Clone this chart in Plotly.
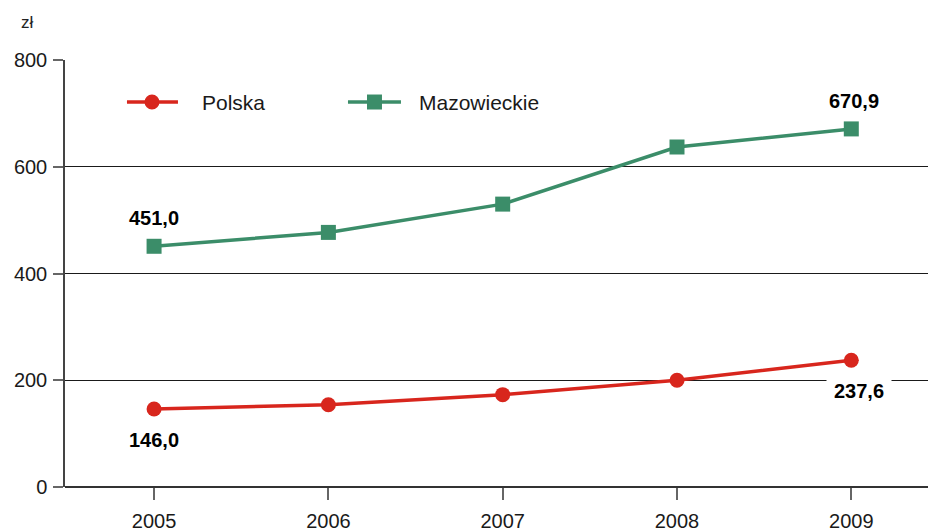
import plotly.graph_objects as go

years = [2005, 2006, 2007, 2008, 2009]
polska = [146.0, 154.0, 173.0, 200.0, 237.6]
mazowieckie = [451.0, 477.0, 530.0, 637.0, 670.9]
y_ticks = [0, 200, 400, 600, 800]
series_names = ['Polska', 'Mazowieckie']

red = '#d8261d'
green = '#3b8d69'
font_family = 'Liberation Sans, Arial'

fig = go.Figure()
fig.add_trace(go.Scatter(x=years, y=polska, mode='lines+markers', name=series_names[0],
                         line=dict(color=red, width=3.5), showlegend=False,
                         marker=dict(symbol='circle', size=15, color=red)))
fig.add_trace(go.Scatter(x=years, y=mazowieckie, mode='lines+markers', name=series_names[1],
                         line=dict(color=green, width=3.5), showlegend=False,
                         marker=dict(symbol='square', size=15, color=green)))

label_font = dict(family=font_family, size=20, color='black', weight='bold')
# first and last values labelled
fig.add_annotation(x=years[0], y=mazowieckie[0], text='451,0', showarrow=False,
                   yshift=28, font=label_font)
fig.add_annotation(x=years[-1], y=mazowieckie[-1], text='670,9', showarrow=False,
                   yshift=28, xshift=3, font=label_font)
fig.add_annotation(x=years[0], y=polska[0], text='146,0', showarrow=False,
                   yshift=-31, font=label_font)
fig.add_annotation(x=years[-1], y=polska[-1], text='237,6', showarrow=False,
                   yshift=-31, xshift=8, font=label_font, bgcolor='white', borderpad=7)

# unit label
fig.add_annotation(x=-0.044, y=1.0, xref='paper', yref='paper', xanchor='center', yanchor='middle',
                   text='zł', showarrow=False, yshift=38,
                   font=dict(family=font_family, size=17, color='#222'))

# hand drawn legend (wider symbols than plotly's own)
legend_y = 0.9016
legend_items = [
    (series_names[0], red, 'circle', 0.0718, 0.1309, 0.1008, 0.1564),
    (series_names[1], green, 'rect', 0.3279, 0.3893, 0.3586, 0.4079),
]
for name, color, kind, lx0, lx1, mx, tx in legend_items:
    fig.add_shape(type='line', xref='paper', yref='paper', x0=lx0, x1=lx1,
                  y0=legend_y, y1=legend_y, line=dict(color=color, width=3.5))
    fig.add_shape(type=kind, xref='paper', yref='paper', xsizemode='pixel', ysizemode='pixel',
                  xanchor=mx, yanchor=legend_y, x0=-7.5, x1=7.5, y0=-7.5, y1=7.5,
                  fillcolor=color, line=dict(width=0))
    fig.add_annotation(x=tx, y=legend_y, xref='paper', yref='paper', xanchor='left',
                       yanchor='middle', text=name, showarrow=False,
                       font=dict(family=font_family, size=21, color='#1a1a1a'))

fig.update_layout(
    width=928, height=531,
    margin=dict(l=65, r=0, t=60, b=44),
    plot_bgcolor='white', paper_bgcolor='white',
    font=dict(family=font_family, size=20, color='#1a1a1a'),
    showlegend=False,
    xaxis=dict(range=[2004.489, 2009.44], tickvals=years, ticks='outside', ticklen=12,
               tickcolor='#666', tickwidth=1.5, showgrid=False, zeroline=False,
               showline=False, fixedrange=True, ticklabelstandoff=4),
    yaxis=dict(range=[0, 800], tickvals=y_ticks, ticks='outside', ticklen=10,
               tickcolor='#666', tickwidth=1.5, showgrid=True, gridcolor='#1a1a1a',
               gridwidth=1, zeroline=True, zerolinecolor='#333', zerolinewidth=2,
               showline=True, linecolor='#444', linewidth=1.5, fixedrange=True,
               ticklabelstandoff=2),
)

# drop the default body margin so the figure fills the window without scrollbars
fig.write_html("out.html", config={'displayModeBar': False},
               post_script="document.body.style.margin='0';document.body.style.overflow='hidden';")
